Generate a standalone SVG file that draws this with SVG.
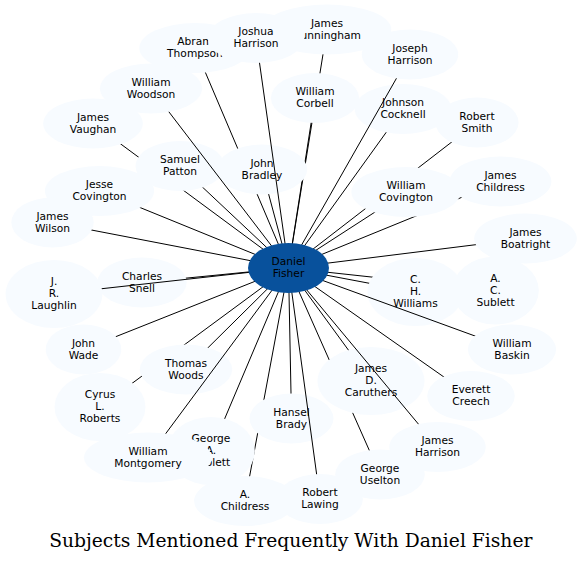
<svg xmlns="http://www.w3.org/2000/svg" width="582" height="563" viewBox="0 0 582 563">
<style>
.node ellipse{fill:#f7fbff;stroke:none}
.node text{font-family:"DejaVu Sans",Verdana,sans-serif;font-size:10.67px;fill:#000;text-anchor:middle}
.center ellipse{fill:#08519c}
.edges line{stroke:#000;stroke-width:1}
.title{font-family:"DejaVu Serif",serif;font-size:18.7px;fill:#000;text-anchor:middle}
.m{fill:#000}
</style>
<defs>
<mask id="hideAll" maskUnits="userSpaceOnUse" x="0" y="0" width="582" height="563">
<rect x="0" y="0" width="582" height="563" fill="#fff"/>
<ellipse class="m" cx="195" cy="48" rx="55.7" ry="25"/>
<ellipse class="m" cx="327" cy="29.5" rx="64.3" ry="25"/>
<ellipse class="m" cx="256" cy="38" rx="48.2" ry="25"/>
<ellipse class="m" cx="410" cy="54.5" rx="48.2" ry="25"/>
<ellipse class="m" cx="151" cy="88.5" rx="51" ry="25"/>
<ellipse class="m" cx="315" cy="98" rx="44.1" ry="25"/>
<ellipse class="m" cx="403" cy="109" rx="48.3" ry="25"/>
<ellipse class="m" cx="477" cy="122.5" rx="41.6" ry="25"/>
<ellipse class="m" cx="93" cy="123.5" rx="49.8" ry="25"/>
<ellipse class="m" cx="180" cy="166" rx="44.5" ry="25"/>
<ellipse class="m" cx="262" cy="169.5" rx="45.2" ry="25"/>
<ellipse class="m" cx="99.5" cy="191" rx="54.6" ry="25"/>
<ellipse class="m" cx="406" cy="192" rx="54.6" ry="25"/>
<ellipse class="m" cx="500.5" cy="181.5" rx="50.9" ry="25"/>
<ellipse class="m" cx="52.5" cy="222.5" rx="41.2" ry="25"/>
<ellipse class="m" cx="525.5" cy="238.5" rx="51.3" ry="25"/>
<ellipse class="m" cx="54" cy="294" rx="48.4" ry="34"/>
<ellipse class="m" cx="142" cy="282.5" rx="44.7" ry="25"/>
<ellipse class="m" cx="415.5" cy="292" rx="48" ry="34"/>
<ellipse class="m" cx="495.5" cy="290.5" rx="43.3" ry="34"/>
<ellipse class="m" cx="83.5" cy="349.5" rx="37.8" ry="25"/>
<ellipse class="m" cx="512" cy="349.5" rx="44.1" ry="25"/>
<ellipse class="m" cx="186" cy="369.5" rx="46.2" ry="25"/>
<ellipse class="m" cx="371" cy="381" rx="53.5" ry="34"/>
<ellipse class="m" cx="100" cy="407" rx="45.5" ry="34"/>
<ellipse class="m" cx="471" cy="396" rx="43.8" ry="25"/>
<ellipse class="m" cx="291.5" cy="418.5" rx="42" ry="25"/>
<ellipse class="m" cx="437.5" cy="447" rx="48.2" ry="25"/>
<ellipse class="m" cx="211" cy="451" rx="43.9" ry="34"/>
<ellipse class="m" cx="148" cy="457.5" rx="64" ry="25"/>
<ellipse class="m" cx="380" cy="474.5" rx="44.8" ry="25"/>
<ellipse class="m" cx="245" cy="501" rx="50.9" ry="25"/>
<ellipse class="m" cx="320" cy="499" rx="42.9" ry="25"/>
</mask>
<mask id="hideTargets" maskUnits="userSpaceOnUse" x="0" y="0" width="582" height="563">
<rect x="0" y="0" width="582" height="563" fill="#fff"/>
<ellipse class="m" cx="256" cy="38" rx="48.2" ry="25"/>
<ellipse class="m" cx="410" cy="54.5" rx="48.2" ry="25"/>
<ellipse class="m" cx="151" cy="88.5" rx="51" ry="25"/>
<ellipse class="m" cx="54" cy="294" rx="48.4" ry="34"/>
<ellipse class="m" cx="512" cy="349.5" rx="44.1" ry="25"/>
<ellipse class="m" cx="437.5" cy="447" rx="48.2" ry="25"/>
<ellipse class="m" cx="148" cy="457.5" rx="64" ry="25"/>
<ellipse class="m" cx="320" cy="499" rx="42.9" ry="25"/>
</mask>
</defs>
<rect x="0" y="0" width="582" height="563" fill="#fff"/>

<g id="n-abram-thompson" class="node"><ellipse cx="195" cy="48" rx="55.7" ry="25"/><text x="195" y="45">Abram<tspan x="195" dy="12">Thompson</tspan></text></g>
<g id="n-james-cunningham" class="node"><ellipse cx="327" cy="29.5" rx="64.3" ry="25"/><text x="327" y="26.5">James<tspan x="327" dy="12">Cunningham</tspan></text></g>
<g id="n-joshua-harrison" class="node"><ellipse cx="256" cy="38" rx="48.2" ry="25"/><text x="256" y="35">Joshua<tspan x="256" dy="12">Harrison</tspan></text></g>
<g id="n-joseph-harrison" class="node"><ellipse cx="410" cy="54.5" rx="48.2" ry="25"/><text x="410" y="51.5">Joseph<tspan x="410" dy="12">Harrison</tspan></text></g>
<g id="n-william-woodson" class="node"><ellipse cx="151" cy="88.5" rx="51" ry="25"/><text x="151" y="85.5">William<tspan x="151" dy="12">Woodson</tspan></text></g>
<g id="n-william-corbell" class="node"><ellipse cx="315" cy="98" rx="44.1" ry="25"/><text x="315" y="95">William<tspan x="315" dy="12">Corbell</tspan></text></g>
<g id="n-johnson-cocknell" class="node"><ellipse cx="403" cy="109" rx="48.3" ry="25"/><text x="403" y="106">Johnson<tspan x="403" dy="12">Cocknell</tspan></text></g>
<g id="n-robert-smith" class="node"><ellipse cx="477" cy="122.5" rx="41.6" ry="25"/><text x="477" y="119.5">Robert<tspan x="477" dy="12">Smith</tspan></text></g>
<g id="n-james-vaughan" class="node"><ellipse cx="93" cy="123.5" rx="49.8" ry="25"/><text x="93" y="120.5">James<tspan x="93" dy="12">Vaughan</tspan></text></g>
<g id="n-samuel-patton" class="node"><ellipse cx="180" cy="166" rx="44.5" ry="25"/><text x="180" y="163">Samuel<tspan x="180" dy="12">Patton</tspan></text></g>
<g id="n-john-bradley" class="node"><ellipse cx="262" cy="169.5" rx="45.2" ry="25"/><text x="262" y="166.5">John<tspan x="262" dy="12">Bradley</tspan></text></g>
<g id="n-jesse-covington" class="node"><ellipse cx="99.5" cy="191" rx="54.6" ry="25"/><text x="99.5" y="188">Jesse<tspan x="99.5" dy="12">Covington</tspan></text></g>
<g id="n-william-covington" class="node"><ellipse cx="406" cy="192" rx="54.6" ry="25"/><text x="406" y="189">William<tspan x="406" dy="12">Covington</tspan></text></g>
<g id="n-james-childress" class="node"><ellipse cx="500.5" cy="181.5" rx="50.9" ry="25"/><text x="500.5" y="178.5">James<tspan x="500.5" dy="12">Childress</tspan></text></g>
<g id="n-james-wilson" class="node"><ellipse cx="52.5" cy="222.5" rx="41.2" ry="25"/><text x="52.5" y="219.5">James<tspan x="52.5" dy="12">Wilson</tspan></text></g>
<g id="n-james-boatright" class="node"><ellipse cx="525.5" cy="238.5" rx="51.3" ry="25"/><text x="525.5" y="235.5">James<tspan x="525.5" dy="12">Boatright</tspan></text></g>
<g id="n-j-r-laughlin" class="node"><ellipse cx="54" cy="294" rx="48.4" ry="34"/><text x="54" y="285">J.<tspan x="54" dy="12">R.</tspan><tspan x="54" dy="12">Laughlin</tspan></text></g>
<g id="n-charles-snell" class="node"><ellipse cx="142" cy="282.5" rx="44.7" ry="25"/><text x="142" y="279.5">Charles<tspan x="142" dy="12">Snell</tspan></text></g>
<g id="n-c-h-williams" class="node"><ellipse cx="415.5" cy="292" rx="48" ry="34"/><text x="415.5" y="283">C.<tspan x="415.5" dy="12">H.</tspan><tspan x="415.5" dy="12">Williams</tspan></text></g>
<g id="n-a-c-sublett" class="node"><ellipse cx="495.5" cy="290.5" rx="43.3" ry="34"/><text x="495.5" y="281.5">A.<tspan x="495.5" dy="12">C.</tspan><tspan x="495.5" dy="12">Sublett</tspan></text></g>
<g id="n-john-wade" class="node"><ellipse cx="83.5" cy="349.5" rx="37.8" ry="25"/><text x="83.5" y="346.5">John<tspan x="83.5" dy="12">Wade</tspan></text></g>
<g id="n-william-baskin" class="node"><ellipse cx="512" cy="349.5" rx="44.1" ry="25"/><text x="512" y="346.5">William<tspan x="512" dy="12">Baskin</tspan></text></g>
<g id="n-thomas-woods" class="node"><ellipse cx="186" cy="369.5" rx="46.2" ry="25"/><text x="186" y="366.5">Thomas<tspan x="186" dy="12">Woods</tspan></text></g>
<g id="n-james-d-caruthers" class="node"><ellipse cx="371" cy="381" rx="53.5" ry="34"/><text x="371" y="372">James<tspan x="371" dy="12">D.</tspan><tspan x="371" dy="12">Caruthers</tspan></text></g>
<g id="n-cyrus-l-roberts" class="node"><ellipse cx="100" cy="407" rx="45.5" ry="34"/><text x="100" y="398">Cyrus<tspan x="100" dy="12">L.</tspan><tspan x="100" dy="12">Roberts</tspan></text></g>
<g id="n-everett-creech" class="node"><ellipse cx="471" cy="396" rx="43.8" ry="25"/><text x="471" y="393">Everett<tspan x="471" dy="12">Creech</tspan></text></g>
<g id="n-hansel-brady" class="node"><ellipse cx="291.5" cy="418.5" rx="42" ry="25"/><text x="291.5" y="415.5">Hansel<tspan x="291.5" dy="12">Brady</tspan></text></g>
<g id="n-james-harrison" class="node"><ellipse cx="437.5" cy="447" rx="48.2" ry="25"/><text x="437.5" y="444">James<tspan x="437.5" dy="12">Harrison</tspan></text></g>
<g id="n-george-a-sublett" class="node"><ellipse cx="211" cy="451" rx="43.9" ry="34"/><text x="211" y="442">George<tspan x="211" dy="12">A.</tspan><tspan x="211" dy="12">Sublett</tspan></text></g>
<g id="n-william-montgomery" class="node"><ellipse cx="148" cy="457.5" rx="64" ry="25"/><text x="148" y="454.5">William<tspan x="148" dy="12">Montgomery</tspan></text></g>
<g id="n-george-uselton" class="node"><ellipse cx="380" cy="474.5" rx="44.8" ry="25"/><text x="380" y="471.5">George<tspan x="380" dy="12">Uselton</tspan></text></g>
<g id="n-a-childress" class="node"><ellipse cx="245" cy="501" rx="50.9" ry="25"/><text x="245" y="498">A.<tspan x="245" dy="12">Childress</tspan></text></g>
<g id="n-robert-lawing" class="node"><ellipse cx="320" cy="499" rx="42.9" ry="25"/><text x="320" y="496">Robert<tspan x="320" dy="12">Lawing</tspan></text></g>

<g id="connectors" class="edges">
<g mask="url(#hideAll)">
<line x1="288.5" y1="268" x2="195" y2="48"/>
<line x1="288.5" y1="268" x2="327" y2="29.5"/>
<line x1="288.5" y1="268" x2="315" y2="98"/>
<line x1="288.5" y1="268" x2="403" y2="109"/>
<line x1="288.5" y1="268" x2="477" y2="122.5"/>
<line x1="288.5" y1="268" x2="93" y2="123.5"/>
<line x1="288.5" y1="268" x2="180" y2="166"/>
<line x1="288.5" y1="268" x2="262" y2="169.5"/>
<line x1="288.5" y1="268" x2="99.5" y2="191"/>
<line x1="288.5" y1="268" x2="406" y2="192"/>
<line x1="288.5" y1="268" x2="500.5" y2="181.5"/>
<line x1="288.5" y1="268" x2="52.5" y2="222.5"/>
<line x1="288.5" y1="268" x2="525.5" y2="238.5"/>
<line x1="288.5" y1="268" x2="142" y2="282.5"/>
<line x1="288.5" y1="268" x2="415.5" y2="292"/>
<line x1="288.5" y1="268" x2="495.5" y2="290.5"/>
<line x1="288.5" y1="268" x2="83.5" y2="349.5"/>
<line x1="288.5" y1="268" x2="186" y2="369.5"/>
<line x1="288.5" y1="268" x2="371" y2="381"/>
<line x1="288.5" y1="268" x2="100" y2="407"/>
<line x1="288.5" y1="268" x2="471" y2="396"/>
<line x1="288.5" y1="268" x2="291.5" y2="418.5"/>
<line x1="288.5" y1="268" x2="211" y2="451"/>
<line x1="288.5" y1="268" x2="380" y2="474.5"/>
<line x1="288.5" y1="268" x2="245" y2="501"/>
</g>
<g mask="url(#hideTargets)">
<line x1="288.5" y1="268" x2="256" y2="38"/>
<line x1="288.5" y1="268" x2="410" y2="54.5"/>
<line x1="288.5" y1="268" x2="151" y2="88.5"/>
<line x1="288.5" y1="268" x2="54" y2="294"/>
<line x1="288.5" y1="268" x2="512" y2="349.5"/>
<line x1="288.5" y1="268" x2="437.5" y2="447"/>
<line x1="288.5" y1="268" x2="148" y2="457.5"/>
<line x1="288.5" y1="268" x2="320" y2="499"/>
</g>
</g>

<g id="n-daniel-fisher" class="node center"><ellipse cx="288.5" cy="268" rx="40.5" ry="25"/><text x="288.5" y="265">Daniel<tspan x="288.5" dy="12">Fisher</tspan></text></g>

<text class="title" x="290.8" y="547">Subjects Mentioned Frequently With Daniel Fisher</text>
</svg>
